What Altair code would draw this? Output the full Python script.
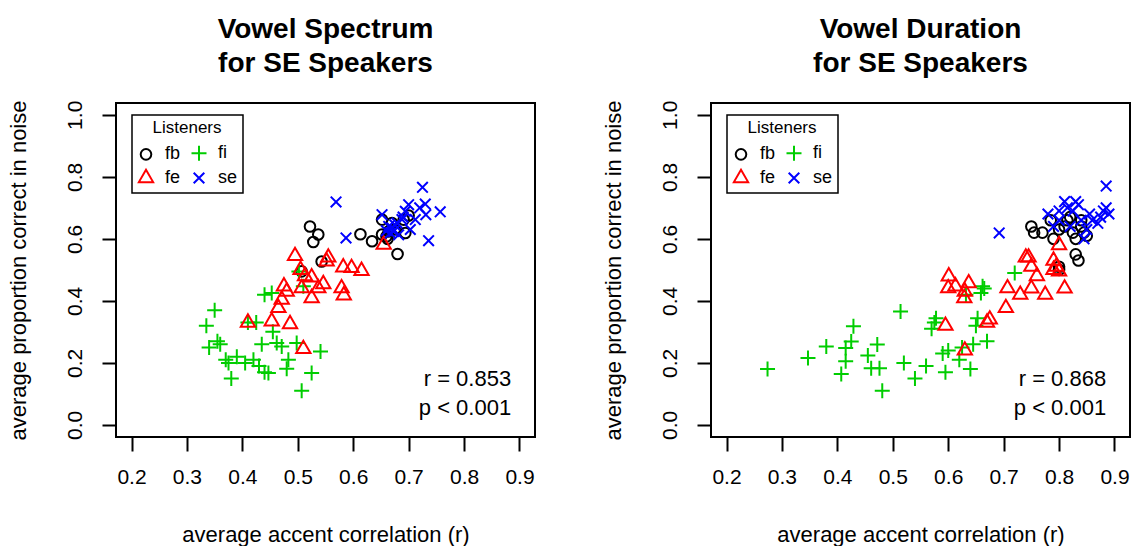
import altair as alt
import pandas as pd

# ---------------- data ----------------
groups = ["fb", "fi", "fe", "se"]
legend_order = ["fb", "fe", "fi", "se"]  # column-major fill -> rows "fb fi" / "fe se"
colors = ["#000000", "#00CD00", "#FF0000", "#0000FF"]
shapes = [
    "M-0.707,0A0.707,0.707 0 1,1 0.707,0A0.707,0.707 0 1,1 -0.707,0Z",
    "M-1,0L1,0M0,-1L0,1",
    "M0,-1.1L0.952,0.55L-0.952,0.55Z",
    "M-0.707,-0.707L0.707,0.707M-0.707,0.707L0.707,-0.707",
]

# Left panel: Vowel Spectrum
spec_fb_x = [0.507, 0.522, 0.528, 0.537, 0.543, 0.613, 0.634, 0.652, 0.652, 0.660, 0.664, 0.670, 0.680, 0.691, 0.694, 0.675, 0.700, 0.662]
spec_fb_y = [0.495, 0.640, 0.590, 0.614, 0.527, 0.615, 0.592, 0.614, 0.662, 0.608, 0.624, 0.651, 0.551, 0.662, 0.619, 0.630, 0.675, 0.600]
spec_fi_x = [0.335, 0.350, 0.340, 0.355, 0.360, 0.370, 0.375, 0.380, 0.390, 0.405, 0.410, 0.420, 0.425, 0.430, 0.435, 0.440, 0.440, 0.453, 0.455, 0.462, 0.471, 0.483, 0.480, 0.498, 0.507, 0.510, 0.525, 0.541, 0.502, 0.447]
spec_fi_y = [0.320, 0.370, 0.250, 0.270, 0.260, 0.210, 0.200, 0.150, 0.220, 0.200, 0.330, 0.210, 0.330, 0.190, 0.260, 0.170, 0.420, 0.425, 0.300, 0.264, 0.253, 0.210, 0.181, 0.264, 0.110, 0.447, 0.167, 0.237, 0.495, 0.167]
spec_fe_x = [0.410, 0.453, 0.465, 0.471, 0.475, 0.480, 0.486, 0.495, 0.505, 0.507, 0.510, 0.513, 0.525, 0.525, 0.537, 0.546, 0.552, 0.555, 0.582, 0.583, 0.579, 0.597, 0.615, 0.655]
spec_fe_y = [0.330, 0.334, 0.377, 0.404, 0.447, 0.430, 0.325, 0.545, 0.500, 0.441, 0.245, 0.480, 0.409, 0.476, 0.441, 0.454, 0.527, 0.540, 0.508, 0.418, 0.441, 0.506, 0.497, 0.581]
spec_se_x = [0.569, 0.587, 0.652, 0.660, 0.664, 0.667, 0.673, 0.679, 0.682, 0.688, 0.694, 0.700, 0.703, 0.712, 0.725, 0.730, 0.731, 0.736, 0.757, 0.670, 0.675, 0.690, 0.720]
spec_se_y = [0.719, 0.603, 0.678, 0.626, 0.640, 0.619, 0.624, 0.651, 0.613, 0.662, 0.689, 0.710, 0.630, 0.662, 0.766, 0.712, 0.678, 0.594, 0.687, 0.635, 0.645, 0.670, 0.700]

# Right panel: Vowel Duration
dur_fb_x = [0.750, 0.755, 0.770, 0.785, 0.790, 0.800, 0.800, 0.810, 0.815, 0.820, 0.825, 0.830, 0.830, 0.835, 0.840, 0.845, 0.850, 0.840, 0.800]
dur_fb_y = [0.640, 0.620, 0.620, 0.660, 0.600, 0.500, 0.510, 0.640, 0.660, 0.670, 0.620, 0.600, 0.550, 0.530, 0.660, 0.620, 0.610, 0.640, 0.630]
dur_fi_x = [0.274, 0.347, 0.380, 0.429, 0.425, 0.415, 0.415, 0.407, 0.455, 0.472, 0.461, 0.476, 0.481, 0.514, 0.520, 0.540, 0.560, 0.570, 0.575, 0.578, 0.590, 0.595, 0.600, 0.620, 0.625, 0.632, 0.640, 0.645, 0.650, 0.653, 0.659, 0.662, 0.665, 0.670, 0.720]
dur_fi_y = [0.180, 0.216, 0.253, 0.318, 0.269, 0.248, 0.205, 0.164, 0.224, 0.259, 0.183, 0.183, 0.110, 0.366, 0.200, 0.150, 0.190, 0.310, 0.330, 0.344, 0.230, 0.170, 0.240, 0.210, 0.250, 0.420, 0.180, 0.260, 0.320, 0.344, 0.425, 0.447, 0.440, 0.270, 0.490]
dur_fe_x = [0.595, 0.601, 0.600, 0.613, 0.629, 0.630, 0.630, 0.637, 0.670, 0.675, 0.707, 0.704, 0.730, 0.740, 0.745, 0.750, 0.750, 0.760, 0.775, 0.790, 0.790, 0.795, 0.800, 0.810, 0.800]
dur_fe_y = [0.320, 0.479, 0.441, 0.447, 0.409, 0.430, 0.240, 0.457, 0.330, 0.340, 0.441, 0.377, 0.420, 0.540, 0.540, 0.440, 0.510, 0.480, 0.420, 0.500, 0.530, 0.510, 0.580, 0.440, 0.495]
dur_se_x = [0.692, 0.780, 0.790, 0.800, 0.810, 0.815, 0.820, 0.825, 0.830, 0.835, 0.840, 0.845, 0.850, 0.855, 0.870, 0.875, 0.880, 0.885, 0.885, 0.890, 0.860, 0.800]
dur_se_y = [0.619, 0.680, 0.640, 0.660, 0.720, 0.700, 0.640, 0.690, 0.720, 0.710, 0.660, 0.600, 0.630, 0.680, 0.650, 0.670, 0.690, 0.700, 0.770, 0.680, 0.660, 0.690]

spec_stats = ["r = 0.853", "p < 0.001"]
dur_stats = ["r = 0.868", "p < 0.001"]
stats_x = [0.885, 0.885]
stats_y = [0.147, 0.056]

x_ticks = [0.2, 0.3, 0.4, 0.5, 0.6, 0.7, 0.8, 0.9]
y_ticks = [0.0, 0.2, 0.4, 0.6, 0.8, 1.0]

FONT = "Liberation Sans"


def frame(xs_ys):
    rows = []
    for g, (xs, ys) in zip(groups, xs_ys):
        for a, b in zip(xs, ys):
            rows.append({"listener": g, "x": a, "y": b})
    return pd.DataFrame(rows)


def panel(df, stats, title_lines):
    xs = alt.X("x:Q", scale=alt.Scale(domain=[0.172, 0.928], nice=False, zero=False),
               axis=alt.Axis(values=x_ticks, format=".1f", title="average accent correlation (r)",
                             labelPadding=15, titlePadding=37))
    ys = alt.Y("y:Q", scale=alt.Scale(domain=[-0.039, 1.038], nice=False, zero=False),
               axis=alt.Axis(values=y_ticks, format=".1f", title="average proportion correct in noise",
                             labelAngle=270, labelAlign="center", labelBaseline="bottom",
                             labelPadding=17, titlePadding=34))
    leg = alt.Legend(title="Listeners", orient="none", legendX=16, legendY=12,
                     columns=2, values=legend_order)
    pts = alt.Chart(df).mark_point(filled=False, strokeWidth=2, size=225, opacity=1).encode(
        x=xs, y=ys,
        color=alt.Color("listener:N", scale=alt.Scale(domain=groups, range=colors),
                        sort=groups, legend=leg),
        shape=alt.Shape("listener:N", scale=alt.Scale(domain=groups, range=shapes),
                        sort=groups, legend=leg),
    )
    sdf = pd.DataFrame({"x": stats_x, "y": stats_y, "t": stats})
    txt = alt.Chart(sdf).mark_text(align="right", baseline="middle", fontSize=22, font=FONT,
                                   color="black").encode(x="x:Q", y="y:Q", text="t:N")
    return alt.layer(pts, txt).properties(
        width=419, height=334,
        title=alt.TitleParams(text=title_lines, fontSize=28, fontWeight="bold", font=FONT,
                              anchor="middle", frame="group", lineHeight=34, offset=22,
                              color="black"),
    )


left = panel(frame([(spec_fb_x, spec_fb_y), (spec_fi_x, spec_fi_y),
                    (spec_fe_x, spec_fe_y), (spec_se_x, spec_se_y)]),
             spec_stats, ["Vowel Spectrum", "for SE Speakers"])
right = panel(frame([(dur_fb_x, dur_fb_y), (dur_fi_x, dur_fi_y),
                     (dur_fe_x, dur_fe_y), (dur_se_x, dur_se_y)]),
              dur_stats, ["Vowel Duration", "for SE Speakers"])

chart = alt.hconcat(left, right, spacing=64).resolve_scale(
    color="independent", shape="independent"
).resolve_legend(color="independent", shape="independent").configure(
    padding={"left": 5, "top": 15, "right": 0, "bottom": 0},
    background="white",
).configure_view(
    stroke="black", strokeWidth=2
).configure_axis(
    domain=False, grid=False, ticks=True, tickColor="black", tickWidth=2, tickSize=14,
    labelFont=FONT, labelFontSize=21, labelColor="black",
    titleFont=FONT, titleFontSize=22, titleFontWeight="normal", titleColor="black",
).configure_legend(
    fillColor="white", strokeColor="black", strokeWidth=1.5, padding=5,
    titleFont=FONT, titleFontSize=17, titleFontWeight="normal", titleColor="black",
    titleAnchor="middle", titlePadding=7,
    labelFont=FONT, labelFontSize=18, labelColor="black", labelOffset=10,
    symbolSize=225, symbolStrokeWidth=2, rowPadding=0, columnPadding=6,
)

chart.save("out.html", embed_options={"renderer": "svg", "actions": False})
